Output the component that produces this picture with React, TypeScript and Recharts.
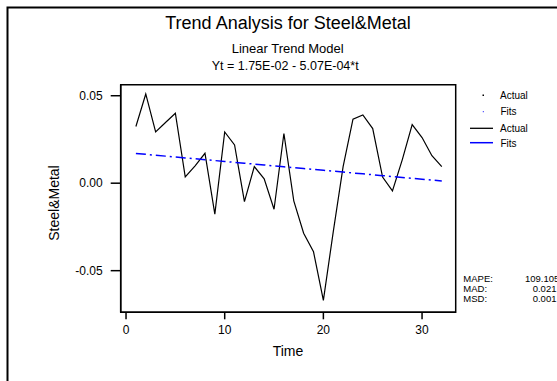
import React from "react";
import {
  LineChart,
  Line,
  XAxis,
  YAxis,
  ReferenceArea,
  Customized,
} from "recharts";

// Time index
const TIME = [
  1, 2, 3, 4, 5, 6, 7, 8, 9, 10, 11, 12, 13, 14, 15, 16,
  17, 18, 19, 20, 21, 22, 23, 24, 25, 26, 27, 28, 29, 30, 31, 32,
];

// Observed Steel&Metal values
const ACTUAL = [
  0.0324, 0.051, 0.0293, 0.0347, 0.04, 0.0036, 0.0099, 0.0171,
  -0.0177, 0.0293, 0.0219, -0.0105, 0.0095, 0.0025, -0.0149, 0.0284,
  -0.0101, -0.0286, -0.0392, -0.067, -0.0278, 0.0095, 0.0366, 0.039,
  0.0312, 0.0035, -0.0044, 0.0135, 0.0335, 0.0261, 0.0157, 0.0095,
];

// Fitted values of Yt = 1.75E-02 - 5.07E-04*t
const FITS = [
  0.016993, 0.016486, 0.015979, 0.015472, 0.014965, 0.014458, 0.013951, 0.013444,
  0.012937, 0.01243, 0.011923, 0.011416, 0.010909, 0.010402, 0.009895, 0.009388,
  0.008881, 0.008374, 0.007867, 0.00736, 0.006853, 0.006346, 0.005839, 0.005332,
  0.004825, 0.004318, 0.003811, 0.003304, 0.002797, 0.00229, 0.001783, 0.001276,
];

const X_TICKS = [0, 10, 20, 30];
const Y_TICKS = [0.05, 0, -0.05];
const X_DOMAIN: [number, number] = [-0.54, 33.41];
const Y_DOMAIN: [number, number] = [-0.0738, 0.0563];

const ACCURACY = [
  { name: "MAPE:", value: "109.105" },
  { name: "MAD:", value: "0.021" },
  { name: "MSD:", value: "0.001" },
];

const data = TIME.map((t, i) => ({ t, actual: ACTUAL[i], fits: FITS[i] }));

const FONT = "'Liberation Sans', Arial, Helvetica, sans-serif";

const Decorations = () => (
  <g fontFamily={FONT} fill="#000">
    {/* outer frame */}
    <rect x={7.5} y={7.5} width={700} height={500} fill="none" stroke="#000" strokeWidth={2} />
    <text x={288} y={28.5} fontSize={18} textAnchor="middle">
      Trend Analysis for Steel&amp;Metal
    </text>
    <text x={231.7} y={53.3} fontSize={13}>
      Linear Trend Model
    </text>
    <text x={211.7} y={70} fontSize={12.5}>
      Yt = 1.75E-02 - 5.07E-04*t
    </text>
    <text x={288} y={356} fontSize={14} textAnchor="middle">
      Time
    </text>
    <text x={59} y={203} fontSize={14} textAnchor="middle" transform="rotate(-90, 59, 203)">
      Steel&amp;Metal
    </text>
    {/* legend */}
    <rect x={482.5} y={94.5} width={1.5} height={1.5} fill="#000" />
    <text x={500} y={98.5} fontSize={10}>Actual</text>
    <rect x={482.8} y={111.2} width={1} height={1} fill="#0000ff" />
    <text x={500.5} y={115} fontSize={10}>Fits</text>
    <line x1={470} y1={128.3} x2={493} y2={128.3} stroke="#000" strokeWidth={1.3} />
    <text x={500} y={131.8} fontSize={10}>Actual</text>
    <line x1={470} y1={142.7} x2={493} y2={142.7} stroke="#0000ff" strokeWidth={1.5} />
    <text x={500.5} y={146.5} fontSize={10}>Fits</text>
    {/* accuracy measures */}
    {ACCURACY.map((a, i) => (
      <g key={a.name}>
        <text x={463.3} y={281.7 + i * 10} fontSize={9.5}>{a.name}</text>
        <text x={i === 0 ? 525 : 532.7} y={281.7 + i * 10} fontSize={9.5}>{a.value}</text>
      </g>
    ))}
  </g>
);

export default function App() {
  return (
    <div style={{ position: "absolute", left: 0, top: 0, width: 557, height: 381, background: "#fff", overflow: "hidden" }}>
      <LineChart
        width={557}
        height={381}
        data={data}
        margin={{ top: 84.7, right: 101.3, bottom: 38.7, left: 60.7 }}
      >
        <XAxis
          dataKey="t"
          type="number"
          domain={X_DOMAIN}
          allowDataOverflow
          ticks={X_TICKS}
          height={30}
          tickSize={7}
          tickMargin={6}
          axisLine={{ stroke: "#000", strokeWidth: 1.5 }}
          tickLine={{ stroke: "#000", strokeWidth: 1.5 }}
          tick={{ fill: "#000", fontSize: 12, fontFamily: FONT }}
        />
        <YAxis
          type="number"
          domain={Y_DOMAIN}
          allowDataOverflow
          ticks={Y_TICKS}
          width={60}
          tickSize={10}
          tickMargin={8}
          tickFormatter={(v: number) => v.toFixed(2)}
          axisLine={{ stroke: "#000", strokeWidth: 1.5 }}
          tickLine={{ stroke: "#000", strokeWidth: 1.5 }}
          tick={{ fill: "#000", fontSize: 12, fontFamily: FONT }}
        />
        <ReferenceArea
          x1={X_DOMAIN[0]}
          x2={X_DOMAIN[1]}
          y1={Y_DOMAIN[0]}
          y2={Y_DOMAIN[1]}
          fill="none"
          stroke="#000"
          strokeWidth={1.5}
          ifOverflow="visible"
        />
        <Line
          dataKey="actual"
          stroke="#000"
          strokeWidth={1.2}
          dot={false}
          type="linear"
          isAnimationActive={false}
        />
        <Line
          dataKey="fits"
          stroke="#0000ff"
          strokeWidth={1.5}
          strokeDasharray="10 4 2 4"
          dot={false}
          type="linear"
          isAnimationActive={false}
        />
        <Customized component={Decorations} />
      </LineChart>
    </div>
  );
}
